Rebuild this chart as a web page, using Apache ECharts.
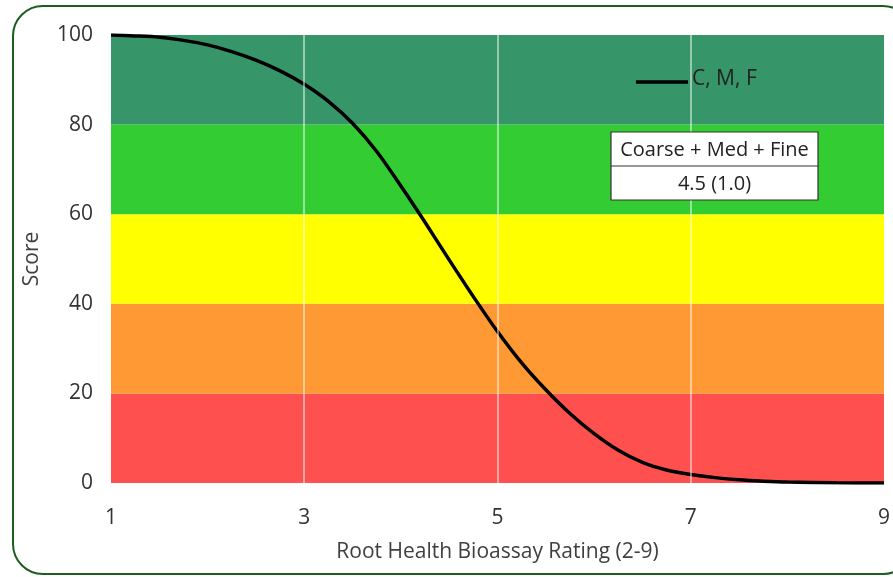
<!DOCTYPE html>
<html>
<head>
<meta charset="utf-8">
<script src="https://cdn.jsdelivr.net/npm/echarts@6/dist/echarts.min.js"></script>
<style>
  html, body { margin: 0; padding: 0; background: #fff; }
  #chart { width: 893px; height: 577px; }
</style>
</head>
<body>
<div id="chart"></div>
<script>
// rating (x) vs score (y)
const ratings = [1, 1.25, 1.5, 1.75, 2, 2.25, 2.5, 2.75, 3, 3.25, 3.5, 3.75, 4, 4.25, 4.5, 4.75, 5, 5.25, 5.5, 5.75, 6, 6.25, 6.5, 6.75, 7, 7.25, 7.5, 7.75, 8, 8.5, 9]
const scores = [100, 99.8, 99.5, 98.8, 97.8, 96.3, 94.4, 92, 89, 85.2, 80.3, 74, 66.3, 58.2, 49.8, 41.6, 33.8, 26.8, 20.8, 15.5, 11, 7.3, 4.6, 2.9, 1.9, 1.2, 0.7, 0.4, 0.2, 0.05, 0]
const xTicks = [1, 3, 5, 7, 9]
// score bands, bottom to top
const bandEdges = [0, 20, 40, 60, 80, 100]
const bandColors = ['#FF5050', '#FF9933', '#FFFF00', '#33CC33', '#369669']

const curve = ratings.map((r, i) => [r, scores[i]])

const bands = bandColors.map((c, i) => [
  { yAxis: bandEdges[i], itemStyle: { color: c } },
  { yAxis: bandEdges[i + 1] }
])

const font = 'Open Sans, Liberation Sans, sans-serif'

const option = {
  animation: false,
  grid: { left: 111, right: 6, top: 35, bottom: 94 },
  xAxis: {
    type: 'value',
    min: xTicks[0],
    max: xTicks[xTicks.length - 1],
    interval: 2,
    name: 'Root Health Bioassay Rating (2-9)',
    nameLocation: 'middle',
    nameGap: 59,
    nameTextStyle: { color: '#404040', fontSize: 21, fontFamily: font },
    axisLine: { show: false },
    axisTick: { show: false },
    splitLine: { show: false },
    axisLabel: { color: '#333', fontSize: 21, fontFamily: font, margin: 25 }
  },
  yAxis: {
    type: 'value',
    min: 0,
    max: 100,
    interval: 20,
    name: 'Score',
    nameLocation: 'middle',
    nameGap: 68,
    nameTextStyle: { color: '#404040', fontSize: 21, fontFamily: font },
    axisLine: { show: false },
    axisTick: { show: false },
    splitLine: { show: false },
    axisLabel: { color: '#333', fontSize: 21, fontFamily: font, margin: 18 }
  },
  series: [
    {
      type: 'line',
      data: [],
      z: 1,
      silent: true,
      markArea: { silent: true, data: bands }
    },
    {
      type: 'line',
      data: [],
      z: 2,
      silent: true,
      markLine: {
        silent: true,
        symbol: 'none',
        label: { show: false },
        lineStyle: { color: 'rgba(255,255,255,0.65)', width: 1.5, type: 'solid' },
        data: xTicks.slice(1, -1).map(v => ({ xAxis: v }))
      }
    },
    {
      name: 'C, M, F',
      type: 'line',
      data: curve,
      z: 3,
      smooth: 0.3,
      symbol: 'none',
      lineStyle: { color: '#000', width: 3.5 }
    }
  ],
  graphic: [
    {
      type: 'rect',
      shape: { x: 13, y: 6, width: 900, height: 568, r: 30 },
      style: { fill: 'none', stroke: '#1b5e20', lineWidth: 2 },
      z: 100
    },
    {
      type: 'line',
      shape: { x1: 636, y1: 82, x2: 688, y2: 82 },
      style: { stroke: '#000', lineWidth: 3.5 },
      z: 100
    },
    {
      type: 'text',
      left: 692,
      top: 69,
      style: { text: 'C, M, F', fill: '#222', font: '21px ' + font },
      z: 100
    },
    {
      type: 'rect',
      shape: { x: 611, y: 132, width: 207, height: 68 },
      style: { fill: '#fff', stroke: '#333', lineWidth: 1.2 },
      z: 100
    },
    {
      type: 'line',
      shape: { x1: 611, y1: 166, x2: 818, y2: 166 },
      style: { stroke: '#333', lineWidth: 1.2 },
      z: 100
    },
    {
      type: 'text',
      x: 714.5,
      y: 150,
      style: { text: 'Coarse + Med + Fine', fill: '#222', font: '20px ' + font, textAlign: 'center', textVerticalAlign: 'middle' },
      z: 101
    },
    {
      type: 'text',
      x: 714.5,
      y: 184,
      style: { text: '4.5 (1.0)', fill: '#222', font: '20px ' + font, textAlign: 'center', textVerticalAlign: 'middle' },
      z: 101
    }
  ]
}

const myChart = echarts.init(document.getElementById('chart'))
option && myChart.setOption(option)
</script>
</body>
</html>
